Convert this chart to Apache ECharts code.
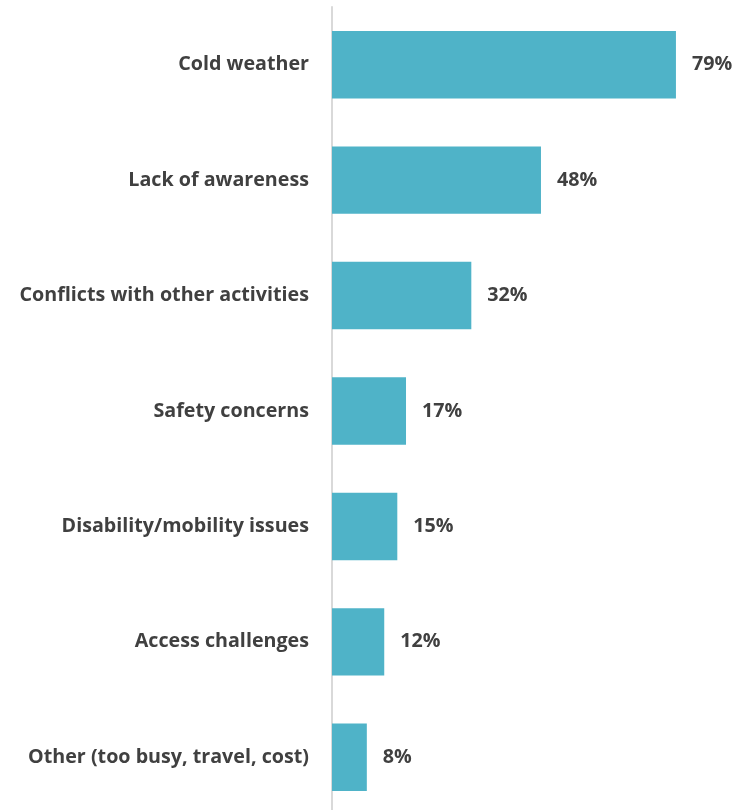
<!DOCTYPE html>
<html>
<head>
<meta charset="utf-8">
<script src="https://cdn.jsdelivr.net/npm/echarts@6/dist/echarts.min.js"></script>
<style>html,body{margin:0;padding:0;background:#fff;}#c{width:742px;height:810px;}</style>
</head>
<body>
<div id="c"></div>
<script>
const categories = ["Cold weather","Lack of awareness","Conflicts with other activities","Safety concerns","Disability/mobility issues","Access challenges","Other (too busy, travel, cost)"];
const values = [79,48,32,17,15,12,8];
const chart = echarts.init(document.getElementById('c'), null, {renderer:'canvas'});
chart.setOption({
  animation:false,
  grid:{left:332, top:7, width:348.3, height:808, containLabel:false, outerBoundsMode:'none'},
  xAxis:{type:'value', min:0, max:80, show:false},
  yAxis:{type:'category', data:categories, inverse:true,
    axisLine:{show:true, lineStyle:{color:'#d9d9d9', width:2}},
    axisTick:{show:false},
    axisLabel:{color:'#404040', fontFamily:'Open Sans', fontWeight:'bold', fontSize:19.7, margin:23}},
  series:[{type:'bar', data:values, barCategoryGap:'41.6%',
    itemStyle:{color:'#4fb3c8'},
    label:{show:true, position:'right', distance:16, formatter:'{c}%', color:'#404040', fontFamily:'Open Sans', fontWeight:'bold', fontSize:19.7}}]
});
</script>
</body>
</html>
